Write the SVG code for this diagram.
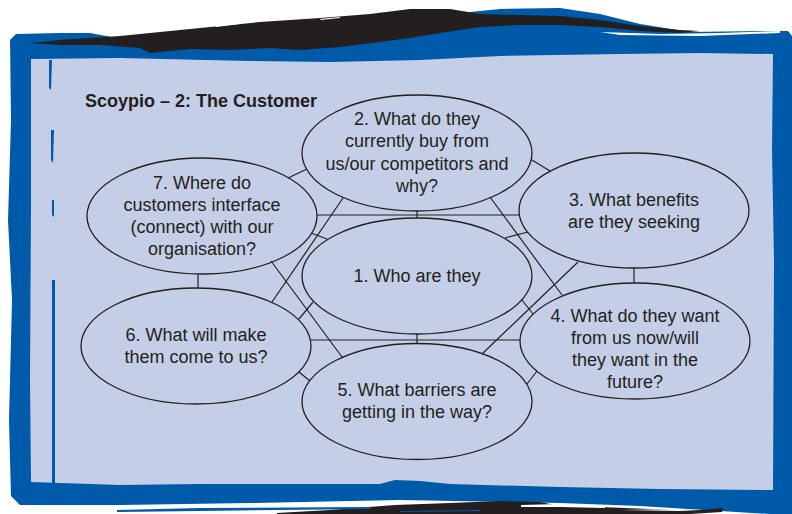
<svg xmlns="http://www.w3.org/2000/svg" width="792" height="514" viewBox="0 0 792 514">
<style>
.blue{fill:#005aaa}
.ink{fill:#231f20}
.node ellipse{fill:none;stroke:#231f20;stroke-width:1.3}
.node text{font-family:"Liberation Sans",Arial,sans-serif;font-size:18px;fill:#231f20;text-anchor:middle}
#connectors line{stroke:#231f20;stroke-width:1.2}
.title{font-family:"Liberation Sans",Arial,sans-serif;font-size:18px;font-weight:bold;fill:#231f20}
</style>
<rect width="792" height="514" fill="#ffffff"/>
<g id="frame">
<path class="blue" d="M10,40 L16,34 L60,33 L90,33 L150,44 L300,46 L400,30 L450,14 L500,9 L560,8 L600,14 L640,24 L690,32 L760,31 L788,31 L792,36 L792,514 L770,514 L720,511 L640,506 L560,503 L400,500 L250,503 L120,505 L20,505 L11,496 L9,420 L12,300 L8,220 L11,120 Z"/>
<path fill="#ffffff" d="M600,32 L660,34 L720,33 L780,31 L780,33 L700,36 L620,35 Z"/>
<path fill="#c4cee6" d="M31,59 L120,58 L250,61 L330,62 L420,60 L500,56 L620,54 L700,53 L773,54 L772,150 L774,260 L773,490 L660,489 L560,487 L450,484 L420,481 L395,480 L380,484 L300,484 L200,484 L120,485 L31,482 L30,380 L31,200 Z"/>
<path class="blue" d="M52,280 L55,280 L55,483 L52,483 Z M49,60 L52,60 L51,90 L49,88 Z M51,130 L54,130 L53,163 L51,160 Z M52,200 L54,200 L54,217 L52,215 Z"/>
<path class="ink" d="M30,43 L60,40 L120,36 L200,28 L260,22 L320,18 L370,14 L410,9 L450,9 L480,14 L520,15 L560,16 L600,20 L640,26 L680,30 L700,31 L680,33 L640,31 L600,27 L560,25 L520,25 L480,27 L440,33 L410,38 L380,42 L340,47 L300,50 L270,48 L230,50 L190,49 L150,53 L140,48 L100,45 L60,45 Z"/>
<path fill="#ffffff" d="M215,25 L240,22 L240,24 L216,27 Z M320,19 L340,17 L340,18 L321,20 Z"/>
<path class="ink" d="M277,513 L330,510 L395,505 L450,503 L500,501 L540,502 L560,506 L600,507 L650,509 L700,510 L723,508 L722,512 L690,514 L277,514 Z"/>
<path fill="#ffffff" d="M521,505 L560,504 L605,506 L605,508 L560,507 L521,507 Z M620,510 L680,509 L700,510 L680,511 Z"/>
<path class="blue" d="M117,510 L200,508 L370,507 L370,509 L200,511 L117,512 Z M400,511 L480,510 L480,511 L400,512 Z"/>
</g>
<text class="title" x="85" y="107">Scoypio – 2: The Customer</text>
<g id="connectors">
<line x1="317" y1="215" x2="519" y2="215"/>
<line x1="311" y1="340" x2="520" y2="340"/>
<line x1="417" y1="211" x2="417" y2="218"/>
<line x1="417" y1="334" x2="417" y2="343"/>
<line x1="198" y1="274" x2="198" y2="288"/>
<line x1="634" y1="268" x2="634" y2="283"/>
<line x1="532" y1="160" x2="550" y2="171"/>
<line x1="288" y1="178" x2="307" y2="169"/>
<line x1="299" y1="372" x2="310" y2="381"/>
<line x1="537" y1="371" x2="527" y2="384"/>
<line x1="311" y1="233" x2="327" y2="239"/>
<line x1="505" y1="238" x2="528" y2="232"/>
<line x1="299" y1="319" x2="313" y2="302"/>
<line x1="522" y1="300" x2="533" y2="314"/>
<line x1="343" y1="198" x2="272" y2="302"/>
<line x1="490" y1="197" x2="562" y2="295"/>
<line x1="271" y1="261" x2="342" y2="357"/>
<line x1="578" y1="262" x2="482" y2="354"/>
</g>
<g id="node1" class="node">
<ellipse cx="417" cy="276" rx="115" ry="58"/>
<text x="417" y="282">1. Who are they</text>
</g>
<g id="node2" class="node">
<ellipse cx="417" cy="153" rx="115" ry="58"/>
<text x="417" y="125">2. What do they</text>
<text x="417" y="147">currently buy from</text>
<text x="417" y="170">us/our competitors and</text>
<text x="417" y="192">why?</text>
</g>
<g id="node3" class="node">
<ellipse cx="634" cy="210.5" rx="115" ry="57.5"/>
<text x="634" y="206">3. What benefits</text>
<text x="634" y="228">are they seeking</text>
</g>
<g id="node4" class="node">
<ellipse cx="635" cy="341" rx="115" ry="58"/>
<text x="635" y="322">4. What do they want</text>
<text x="635" y="344">from us now/will</text>
<text x="635" y="366">they want in the</text>
<text x="635" y="388">future?</text>
</g>
<g id="node5" class="node">
<ellipse cx="417" cy="401.5" rx="115" ry="58"/>
<text x="417" y="396">5. What barriers are</text>
<text x="417" y="418">getting in the way?</text>
</g>
<g id="node6" class="node">
<ellipse cx="196" cy="346" rx="115" ry="58"/>
<text x="196" y="341">6. What will make</text>
<text x="196" y="363">them come to us?</text>
</g>
<g id="node7" class="node">
<ellipse cx="202" cy="216" rx="115" ry="58"/>
<text x="202" y="189">7. Where do</text>
<text x="202" y="211">customers interface</text>
<text x="202" y="233">(connect) with our</text>
<text x="202" y="255">organisation?</text>
</g>
</svg>
